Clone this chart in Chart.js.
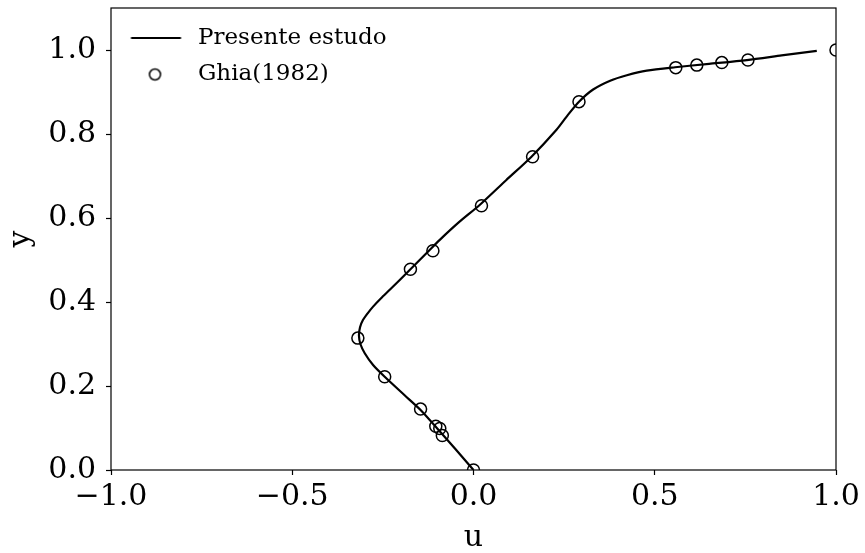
<!DOCTYPE html>
<html>
<head>
<meta charset="utf-8">
<script src="https://cdn.jsdelivr.net/npm/chart.js@4.4.1/dist/chart.umd.min.js"></script>
<style>
html,body{margin:0;padding:0;background:#ffffff;}
#wrap{width:865px;height:553px;}
</style>
</head>
<body>
<div id="wrap"><canvas id="c" width="865" height="553"></canvas></div>
<script>
// Present study (simulation) profile: u along vertical centreline
const simU = [0, -0.050, -0.100, -0.146, -0.190, -0.245, -0.277, -0.300, -0.312, -0.316, -0.313, -0.305, -0.292, -0.277, -0.255, -0.231, -0.176, -0.121, -0.093, -0.040, 0.017, 0.090, 0.160, 0.229, 0.260, 0.291, 0.330, 0.377, 0.423, 0.478, 0.556, 0.650, 0.754, 0.850, 0.947];
const simY = [0, 0.050, 0.099, 0.143, 0.178, 0.222, 0.250, 0.278, 0.300, 0.320, 0.340, 0.357, 0.373, 0.389, 0.409, 0.429, 0.476, 0.524, 0.548, 0.590, 0.631, 0.690, 0.746, 0.810, 0.845, 0.877, 0.906, 0.927, 0.940, 0.951, 0.959, 0.967, 0.976, 0.987, 0.998];

// Ghia (1982) reference points
const ghiaU = [1.0, 0.757, 0.685, 0.616, 0.558, 0.291, 0.163, 0.022, -0.112, -0.174, -0.319, -0.245, -0.146, -0.104, -0.093, -0.086, 0.0];
const ghiaY = [1.0, 0.976, 0.970, 0.964, 0.958, 0.877, 0.746, 0.629, 0.522, 0.478, 0.314, 0.222, 0.145, 0.104, 0.099, 0.082, 0.0];

const seriesNames = ["Presente estudo", "Ghia(1982)"];
const xLabel = "u";
const yLabel = "y";

const FONT = "'DejaVu Serif', 'Liberation Serif', serif";

function fmt(v) {
  const s = Math.abs(v).toFixed(1);
  return v < -1e-9 ? "\u2212" + s : s;
}

// legend symbols
const LEG_W = 62, LEG_H = 20;
function lineSymbol() {
  const c = document.createElement('canvas');
  c.width = LEG_W; c.height = LEG_H;
  const g = c.getContext('2d');
  g.strokeStyle = '#000'; g.lineWidth = 2.2;
  g.beginPath(); g.moveTo(6.5, LEG_H / 2); g.lineTo(56.5, LEG_H / 2); g.stroke();
  return c;
}
function circleSymbol() {
  const c = document.createElement('canvas');
  c.width = LEG_W; c.height = LEG_H;
  const g = c.getContext('2d');
  g.strokeStyle = '#000'; g.lineWidth = 1.5;
  g.beginPath(); g.arc(30.5, LEG_H / 2, 5.5, 0, Math.PI * 2); g.stroke();
  return c;
}
const legSymbols = [lineSymbol(), circleSymbol()];

const framePlugin = {
  id: 'frame',
  afterDatasetsDraw(chart) {
    const a = chart.chartArea, ctx = chart.ctx;
    ctx.save();
    ctx.strokeStyle = '#000';
    ctx.lineWidth = 1.2;
    ctx.strokeRect(a.left, a.top, a.right - a.left, a.bottom - a.top);
    ctx.restore();
  }
};

const simData = simU.map((u, i) => ({x: u, y: simY[i]}));
const ghiaData = ghiaU.map((u, i) => ({x: u, y: ghiaY[i]}));

new Chart(document.getElementById('c'), {
  type: 'line',
  data: {
    datasets: [
      {
        label: seriesNames[0],
        data: simData,
        borderColor: '#000',
        borderWidth: 2.2,
        pointRadius: 0,
        fill: false,
        tension: 0.25,
        clip: 0
      },
      {
        label: seriesNames[1],
        data: ghiaData,
        showLine: false,
        borderColor: '#000',
        backgroundColor: 'rgba(0,0,0,0)',
        pointBorderColor: '#000',
        pointBackgroundColor: 'rgba(0,0,0,0)',
        pointBorderWidth: 1.5,
        pointRadius: 6,
        pointStyle: 'circle',
        clip: 0
      }
    ]
  },
  options: {
    responsive: false,
    animation: false,
    events: [],
    layout: { padding: { left: 0, right: 29, top: 8, bottom: 0 } },
    scales: {
      x: {
        type: 'linear',
        min: -1, max: 1,
        afterFit(s) { s.height = 83; s.paddingLeft = 0; s.paddingRight = 0; },
        ticks: {
          stepSize: 0.5,
          color: '#000',
          font: { family: FONT, size: 30, lineHeight: 1.2 },
          padding: 4,
          maxRotation: 0,
          callback: v => fmt(v)
        },
        grid: { display: true, drawOnChartArea: false, drawTicks: true, tickLength: 5, tickWidth: 1.2, tickColor: '#000' },
        border: { display: false },
        title: { display: true, text: xLabel, color: '#000', font: { family: FONT, size: 30, lineHeight: 1.0 }, padding: { top: 0, bottom: 0 } }
      },
      y: {
        type: 'linear',
        min: 0, max: 1.1,
        afterFit(s) { s.width = 111; s.paddingTop = 0; s.paddingBottom = 0; },
        ticks: {
          stepSize: 0.2,
          includeBounds: false,
          color: '#000',
          font: { family: FONT, size: 30, lineHeight: 1.2 },
          padding: 10,
          callback: v => fmt(v)
        },
        grid: { display: true, drawOnChartArea: false, drawTicks: true, tickLength: 5, tickWidth: 1.2, tickColor: '#000' },
        border: { display: false },
        title: { display: true, text: yLabel, color: '#000', font: { family: FONT, size: 30, lineHeight: 1.1 }, padding: { top: 5, bottom: 0 } }
      }
    },
    plugins: {
      tooltip: { enabled: false },
      legend: {
        position: 'chartArea',
        align: 'start',
        title: { display: true, text: '', font: { size: 1, lineHeight: 1 }, padding: { top: 12, bottom: 0 } },
        labels: {
          usePointStyle: true,
          pointStyleWidth: LEG_W,
          color: '#000',
          padding: 13.5,
          font: { family: FONT, size: 23 },
          generateLabels: chart => seriesNames.map((n, i) => ({
            text: n,
            pointStyle: legSymbols[i],
            fillStyle: 'rgba(0,0,0,0)',
            strokeStyle: '#000',
            lineWidth: 0,
            hidden: false,
            datasetIndex: i,
            fontColor: '#000'
          }))
        }
      }
    }
  },
  plugins: [framePlugin]
});
</script>
</body>
</html>
